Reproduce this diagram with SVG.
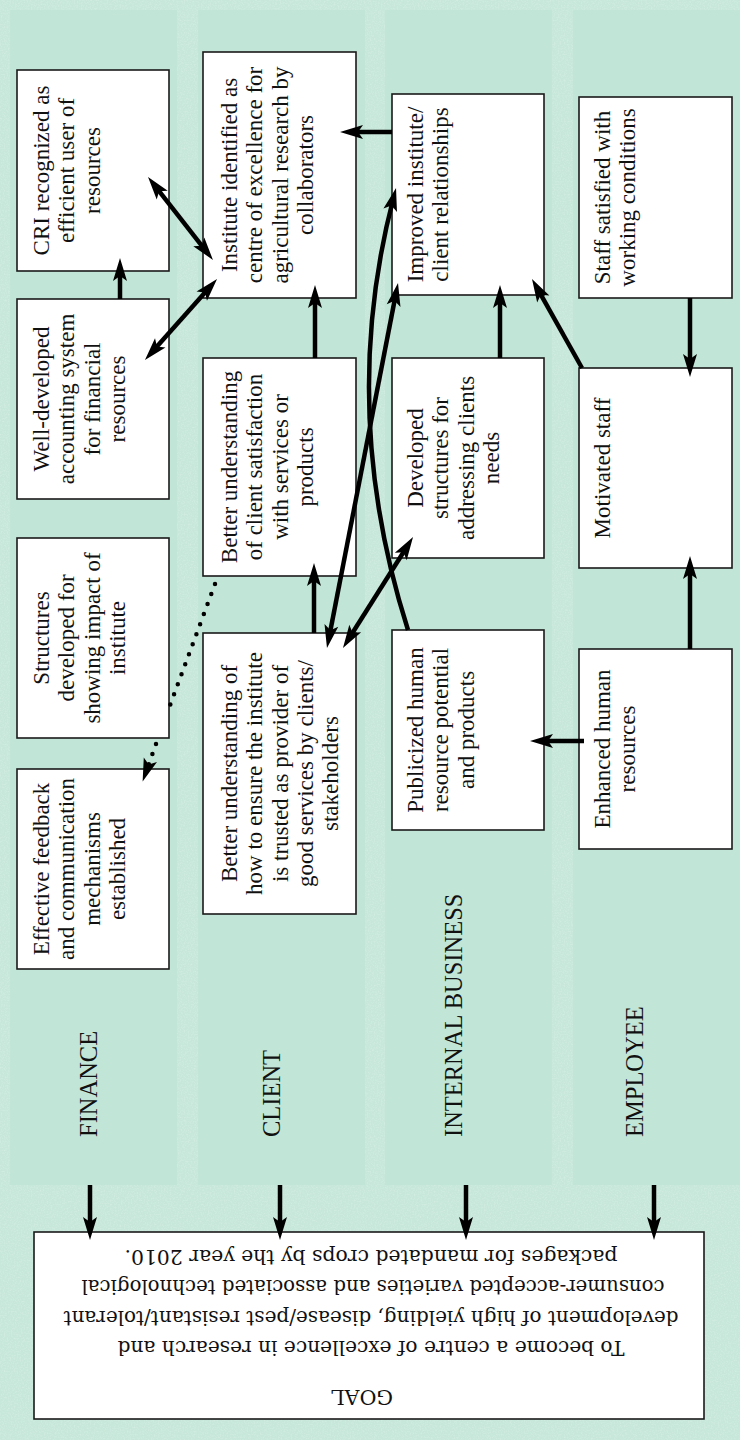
<svg xmlns="http://www.w3.org/2000/svg" width="740" height="1440" viewBox="0 0 740 1440">
<style>
.lane{fill:#c1e5d6}
.box{fill:#fff;stroke:#1a1a1a;stroke-width:1.6}
.t{font-family:"Liberation Serif",serif;font-size:23px;fill:#111;text-anchor:middle}
.lbl{font-family:"Liberation Serif",serif;font-size:24.5px;fill:#111}
.g{font-family:"DejaVu Serif",serif;font-size:21px;fill:#111;text-anchor:middle}
.c{fill:none;stroke:#000;stroke-width:4.5}
.dot{fill:none;stroke:#000;stroke-width:4.5;stroke-linecap:round;stroke-dasharray:0 10.7}
</style>
<defs>
<marker id="ah" markerUnits="userSpaceOnUse" markerWidth="30" markerHeight="20" viewBox="-15 -10 30 20" refX="0" refY="0" orient="auto-start-reverse">
<path d="M-13,-7 L10,0 L-13,7 L-8,0 Z" fill="#000"/>
</marker>
<filter id="grain" x="0" y="0" width="100%" height="100%">
<feTurbulence type="fractalNoise" baseFrequency="0.7" numOctaves="2" seed="4"/>
<feColorMatrix type="matrix" values="0 0 0 0 1  0 0 0 0 1  0 0 0 0 1  0 0 0 0.9 -0.35"/>
</filter>
</defs>
<rect x="0" y="0" width="740" height="1440" fill="#c6e7da"/>
<rect x="0" y="0" width="740" height="1440" filter="url(#grain)" opacity="0.5"/>
<g id="lanes">
<rect class="lane" x="10" y="10" width="167" height="1175"/>
<rect class="lane" x="198" y="10" width="167" height="1175"/>
<rect class="lane" x="385" y="10" width="167" height="1175"/>
<rect class="lane" x="573" y="10" width="167" height="1175"/>
<text class="lbl" transform="translate(97,1137) rotate(-90)">FINANCE</text>
<text class="lbl" transform="translate(280,1137) rotate(-90)">CLIENT</text>
<text class="lbl" transform="translate(462,1137) rotate(-90)">INTERNAL BUSINESS</text>
<text class="lbl" transform="translate(643,1137) rotate(-90)">EMPLOYEE</text>
</g>
<g id="n-cri">
<rect class="box" x="17" y="70" width="152" height="201"/>
<text class="t" transform="translate(49,170.5) rotate(-90)"><tspan x="0" y="0">CRI recognized as</tspan><tspan x="0" dy="25.3">efficient user of</tspan><tspan x="0" dy="25.3">resources</tspan></text>
</g>
<g id="n-accounting">
<rect class="box" x="17" y="299" width="152" height="200"/>
<text class="t" transform="translate(49,399) rotate(-90)"><tspan x="0" y="0">Well-developed</tspan><tspan x="0" dy="25.3">accounting system</tspan><tspan x="0" dy="25.3">for financial</tspan><tspan x="0" dy="25.3">resources</tspan></text>
</g>
<g id="n-structures">
<rect class="box" x="17" y="538" width="152" height="200"/>
<text class="t" transform="translate(49,638) rotate(-90)"><tspan x="0" y="0">Structures</tspan><tspan x="0" dy="25.3">developed for</tspan><tspan x="0" dy="25.3">showing impact of</tspan><tspan x="0" dy="25.3">institute</tspan></text>
</g>
<g id="n-feedback">
<rect class="box" x="17" y="769" width="152" height="200"/>
<text class="t" transform="translate(49,869) rotate(-90)"><tspan x="0" y="0">Effective feedback</tspan><tspan x="0" dy="25.3">and communication</tspan><tspan x="0" dy="25.3">mechanisms</tspan><tspan x="0" dy="25.3">established</tspan></text>
</g>
<g id="n-institute">
<rect class="box" x="203" y="52" width="153" height="246"/>
<text class="t" transform="translate(237,175) rotate(-90)"><tspan x="0" y="0">Institute identified as</tspan><tspan x="0" dy="25.3">centre of excellence for</tspan><tspan x="0" dy="25.3">agricultural research by</tspan><tspan x="0" dy="25.3">collaborators</tspan></text>
</g>
<g id="n-satisfaction">
<rect class="box" x="203" y="358" width="153" height="218"/>
<text class="t" transform="translate(237,467) rotate(-90)"><tspan x="0" y="0">Better understanding</tspan><tspan x="0" dy="25.3">of client satisfaction</tspan><tspan x="0" dy="25.3">with services or</tspan><tspan x="0" dy="25.3">products</tspan></text>
</g>
<g id="n-trusted">
<rect class="box" x="203" y="633" width="153" height="281"/>
<text class="t" transform="translate(237,773.5) rotate(-90)"><tspan x="0" y="0">Better understanding of</tspan><tspan x="0" dy="25.3">how to ensure the institute</tspan><tspan x="0" dy="25.3">is trusted as provider of</tspan><tspan x="0" dy="25.3">good services by clients/</tspan><tspan x="0" dy="25.3">stakeholders</tspan></text>
</g>
<g id="n-improved">
<rect class="box" x="392" y="94" width="152" height="201"/>
<text class="t" transform="translate(423,194.5) rotate(-90)"><tspan x="0" y="0">Improved institute/</tspan><tspan x="0" dy="25.3">client relationships</tspan></text>
</g>
<g id="n-developed">
<rect class="box" x="392" y="358" width="152" height="200"/>
<text class="t" transform="translate(423,458) rotate(-90)"><tspan x="0" y="0">Developed</tspan><tspan x="0" dy="25.3">structures for</tspan><tspan x="0" dy="25.3">addressing clients</tspan><tspan x="0" dy="25.3">needs</tspan></text>
</g>
<g id="n-publicized">
<rect class="box" x="392" y="630" width="152" height="200"/>
<text class="t" transform="translate(423,730) rotate(-90)"><tspan x="0" y="0">Publicized human</tspan><tspan x="0" dy="25.3">resource potential</tspan><tspan x="0" dy="25.3">and products</tspan></text>
</g>
<g id="n-staff">
<rect class="box" x="579" y="97" width="153" height="201"/>
<text class="t" transform="translate(610,197.5) rotate(-90)"><tspan x="0" y="0">Staff satisfied with</tspan><tspan x="0" dy="25.3">working conditions</tspan></text>
</g>
<g id="n-motivated">
<rect class="box" x="579" y="368" width="153" height="200"/>
<text class="t" transform="translate(610,468) rotate(-90)">Motivated staff</text>
</g>
<g id="n-enhanced">
<rect class="box" x="579" y="649" width="153" height="200"/>
<text class="t" transform="translate(610,749) rotate(-90)"><tspan x="0" y="0">Enhanced human</tspan><tspan x="0" dy="25.3">resources</tspan></text>
</g>
<g id="n-goal">
<rect class="box" x="34" y="1232" width="670" height="187"/>
<g transform="rotate(180 369 1325.5)">
<text class="g" x="376" y="1261" textLength="62" lengthAdjust="spacingAndGlyphs">GOAL</text>
<text class="g" x="367" y="1310" textLength="507" lengthAdjust="spacingAndGlyphs">To become a centre of excellence in research and</text>
<text class="g" x="367" y="1340" textLength="615" lengthAdjust="spacingAndGlyphs">development of high yielding, disease/pest resistant/tolerant</text>
<text class="g" x="365" y="1371" textLength="583" lengthAdjust="spacingAndGlyphs">consumer-accepted varieties and associated technological</text>
<text class="g" x="367" y="1401" textLength="493" lengthAdjust="spacingAndGlyphs">packages for mandated crops by the year 2010.</text>
</g>
</g>
<g id="connectors">
<path class="c" d="M120,299 L120,268" marker-end="url(#ah)"/>
<path class="c" d="M154.2,184.9 L206.8,252.1" marker-start="url(#ah)" marker-end="url(#ah)"/>
<path class="c" d="M210.4,286.5 L151.6,352.5" marker-start="url(#ah)" marker-end="url(#ah)"/>
<path class="c" d="M392,132 L350,132" marker-end="url(#ah)"/>
<path class="c" d="M315,358 L315,295" marker-end="url(#ah)"/>
<path class="c" d="M500,358 L500,295" marker-end="url(#ah)"/>
<path class="c" d="M582,368 L536.9,287.7" marker-end="url(#ah)"/>
<path class="c" d="M690,298 L690,367" marker-end="url(#ah)"/>
<path class="c" d="M314,633 L314,573" marker-end="url(#ah)"/>
<path class="c" d="M328.9,638.2 L396.1,292.8" marker-start="url(#ah)" marker-end="url(#ah)"/>
<path class="c" d="M348.3,639.5 L407.7,545.5" marker-start="url(#ah)" marker-end="url(#ah)"/>
<path class="c" d="M408,630 Q338,410 393.5,197.7" marker-end="url(#ah)"/>
<path class="c" d="M584,741 L540,741" marker-end="url(#ah)"/>
<path class="c" d="M690,649 L690,566" marker-end="url(#ah)"/>
<path class="dot" d="M215,584 L169,708 M156,744 L146,772" marker-end="url(#ah)"/>
<path class="c" d="M90,1185 L90,1230" marker-end="url(#ah)"/>
<path class="c" d="M280,1185 L280,1230" marker-end="url(#ah)"/>
<path class="c" d="M466,1185 L466,1230" marker-end="url(#ah)"/>
<path class="c" d="M654,1185 L654,1230" marker-end="url(#ah)"/>
</g>
</svg>
